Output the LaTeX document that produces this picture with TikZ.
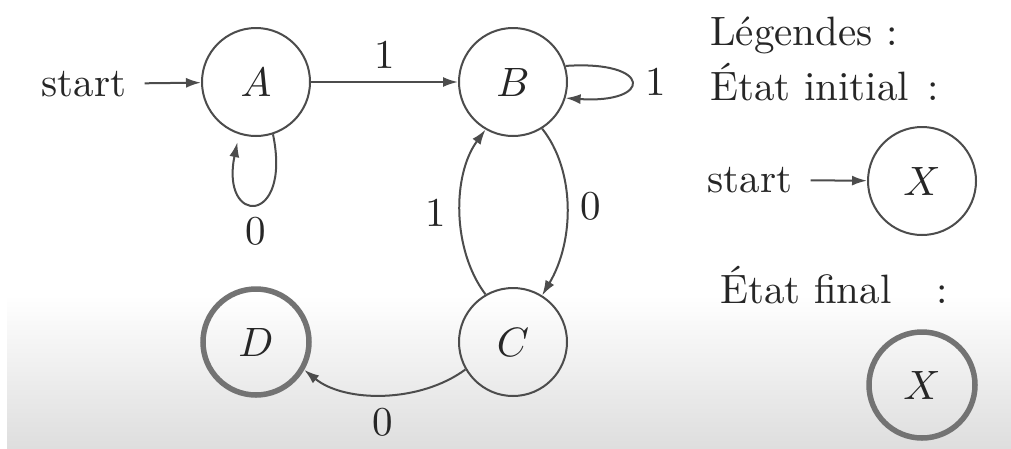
\documentclass[tikz,border=0pt]{standalone}
\usepackage{graphicx}
\usetikzlibrary{arrows.meta}
\newcommand{\sbx}[1]{\scalebox{4.1}{#1}}
\begin{document}
\begin{tikzpicture}[x=1pt,y=-1pt,
  every node/.style={font=\fontsize{10}{12}\selectfont, text=black!85, inner sep=13pt},
  txt/.style={inner sep=0pt},
  state/.style={circle, draw=black!70, line width=2pt, minimum size=108pt, inner sep=0pt},
  final/.style={circle, draw=black!55, line width=5.5pt, minimum size=106pt, inner sep=0pt},
  arr/.style={-{Latex[length=15pt,width=10pt]}, draw=black!70, line width=2pt}]
\useasboundingbox (0,0) rectangle (1011,448);
\fill[white] (0,0) rectangle (1011,448);
\shade[top color=white, bottom color=black!13] (7,295) rectangle (1011,448);
% states
\node[state] (A) at (256,82) {\sbx{$A$}};
\node[state] (B) at (513,82) {\sbx{$B$}};
\node[state] (C) at (513,342) {\sbx{$C$}};
\node[final] (D) at (256,342) {\sbx{$D$}};
\node[txt] (s) at (84,84) {\sbx{start}};
% transitions
\draw[arr, shorten <=18pt] (s) -- (A);
\draw[arr] (A) -- node[above] {\sbx{1}} (B);
\draw[arr] (B.17) .. controls (653,60) and (653,104) .. node[right] {\sbx{1}} (B.-17);
\draw[arr, shorten >=8pt] (A.-72) .. controls (292,226) and (220,226) .. node[below] {\sbx{0}} (A.-108);
\draw[arr] (B.-58) .. controls (575,170) and (575,240) .. node[right] {\sbx{0}} (C.58);
\draw[arr] (C.120) .. controls (452,250) and (452,175) .. node[left] {\sbx{1}} (B.-120);
\draw[arr] (C.-150) .. controls (420,403) and (345,403) .. node[below] {\sbx{0}} (D.-30);
% legend
\node[txt, anchor=base west] (leg) at (710,45) {\sbx{Légendes :}};
\node[txt, anchor=base west] (ini) at (710,100) {\sbx{État initial\hspace{0.45em}:}};
\node[txt] (s2) at (750,180) {\sbx{start}};
\node[state] (X1) at (922,181) {\sbx{$X$}};
\draw[arr, shorten <=18pt] (s2) -- (X1);
\node[txt, anchor=base west] (fin) at (720,303) {\sbx{État final\hspace{1.1em}:}};
\node[final] (X2) at (922,385) {\sbx{$X$}};
\end{tikzpicture}
\end{document}
